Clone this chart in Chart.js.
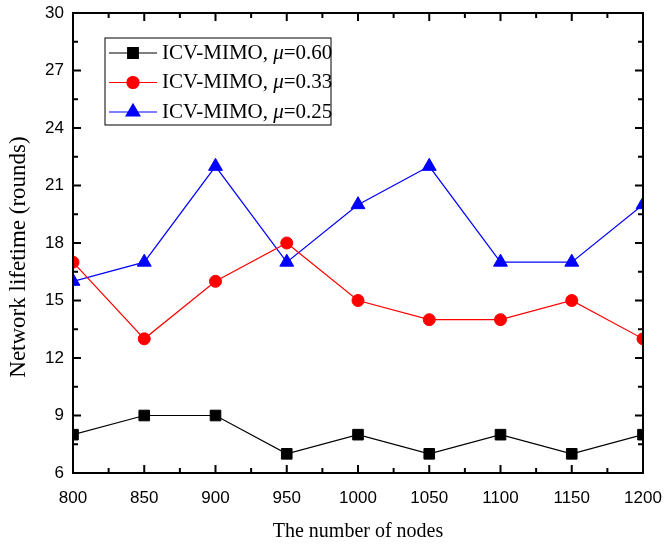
<!DOCTYPE html>
<html>
<head>
<meta charset="UTF-8">
<title>Network lifetime</title>
<script src="https://cdn.jsdelivr.net/npm/chart.js"></script>
<style>
  html, body { margin: 0; padding: 0; background: #fff; }
  #wrap { width: 671px; height: 547px; }
</style>
</head>
<body>
<div id="wrap"><canvas id="lifeChart" width="671" height="547"></canvas></div>
<script>
// data
var nodes = [800, 850, 900, 950, 1000, 1050, 1100, 1150, 1200];
var mu060 = [8, 9, 9, 7, 8, 7, 8, 7, 8];
var mu033 = [17, 13, 16, 18, 15, 14, 14, 15, 13];
var mu025 = [16, 17, 22, 17, 20, 22, 17, 17, 20];
var muLabels = ['0.60', '0.33', '0.25'];
var yTicks = [6, 9, 12, 15, 18, 21, 24, 27, 30];
var yTitle = 'Network lifetime (rounds)';

function pts(ys) {
  return nodes.map(function (x, i) { return { x: x, y: ys[i] }; });
}

// inward ticks on all four sides, frame, legend and y title
var framePlugin = {
  id: 'frame',
  afterDatasetsDraw: function (chart) {
    var ctx = chart.ctx, a = chart.chartArea;
    var xs = chart.scales.x, ys = chart.scales.y;
    ctx.save();
    ctx.strokeStyle = '#000';
    ctx.lineWidth = 2;
    ctx.strokeRect(a.left, a.top, a.right - a.left, a.bottom - a.top);
    ctx.beginPath();
    for (var v = 800; v <= 1200; v += 25) {
      var px = xs.getPixelForValue(v);
      var len = (v % 50 === 0) ? 8 : 5;
      ctx.moveTo(px, a.bottom); ctx.lineTo(px, a.bottom - len);
      ctx.moveTo(px, a.top); ctx.lineTo(px, a.top + len);
    }
    for (var w = 6; w <= 30; w += 1.5) {
      var py = ys.getPixelForValue(w);
      var l2 = (w % 3 === 0) ? 8 : 5;
      ctx.moveTo(a.left, py); ctx.lineTo(a.left + l2, py);
      ctx.moveTo(a.right, py); ctx.lineTo(a.right - l2, py);
    }
    ctx.stroke();

    // y title (sits a bit below the axis centre in the original)
    ctx.save();
    ctx.translate(19, 257);
    ctx.rotate(-Math.PI / 2);
    ctx.fillStyle = '#000';
    ctx.font = '23px "Liberation Serif"';
    ctx.textAlign = 'center';
    ctx.textBaseline = 'middle';
    ctx.fillText(yTitle, 0, 0);
    ctx.restore();

    // legend box (mixed italic text)
    var bx = 105, by = 38, bw = 226, bh = 87;
    ctx.lineWidth = 1;
    ctx.fillStyle = '#fff';
    ctx.fillRect(bx, by, bw, bh);
    ctx.strokeRect(bx, by, bw, bh);
    chart.data.datasets.forEach(function (ds, i) {
      var cy = by + 15 + i * 29.5;
      ctx.strokeStyle = ds.borderColor;
      ctx.lineWidth = 1.2;
      ctx.beginPath();
      ctx.moveTo(bx + 4, cy); ctx.lineTo(bx + 52, cy);
      ctx.stroke();
      Chart.helpers.drawPoint(ctx, {
        pointStyle: ds.pointStyle, radius: ds.pointRadius, borderWidth: 1
      }, bx + 28, cy);
      ctx.fillStyle = ds.borderColor;
      ctx.fill();
      ctx.fillStyle = '#000';
      ctx.textBaseline = 'middle';
      var tx = bx + 57;
      ctx.font = '21px "Liberation Serif"';
      var s1 = 'ICV-MIMO, ';
      ctx.fillText(s1, tx, cy);
      tx += ctx.measureText(s1).width;
      ctx.font = 'italic 21px "Liberation Serif"';
      ctx.fillText('\u03bc', tx, cy);
      tx += ctx.measureText('\u03bc').width;
      ctx.font = '21px "Liberation Serif"';
      ctx.fillText('=' + muLabels[i], tx, cy);
    });
    ctx.restore();
  }
};

var ctx = document.getElementById('lifeChart').getContext('2d');
var lifeChart = new Chart(ctx, {
  type: 'line',
  data: {
    datasets: [{
      label: 'ICV-MIMO, \u03bc=0.60',
      data: pts(mu060),
      borderColor: '#000000',
      backgroundColor: '#000000',
      pointStyle: 'rect',
      pointRadius: 7.5
    }, {
      label: 'ICV-MIMO, \u03bc=0.33',
      data: pts(mu033),
      borderColor: '#ff0000',
      backgroundColor: '#ff0000',
      pointStyle: 'circle',
      pointRadius: 6
    }, {
      label: 'ICV-MIMO, \u03bc=0.25',
      data: pts(mu025),
      borderColor: '#0000ff',
      backgroundColor: '#0000ff',
      pointStyle: 'triangle',
      pointRadius: 8
    }]
  },
  options: {
    responsive: false,
    animation: false,
    layout: { padding: { top: 13, right: 28, left: 0, bottom: 0 } },
    elements: {
      line: { borderWidth: 1.2, tension: 0 },
      point: { borderWidth: 1 }
    },
    plugins: { legend: { display: false }, tooltip: { enabled: false } },
    scales: {
      x: {
        type: 'linear',
        min: 800, max: 1200,
        afterFit: function (s) {
          s.height = 74;
          s.paddingLeft = 0; s.paddingRight = 0;
        },
        ticks: {
          stepSize: 50, padding: 15, color: '#000',
          font: { family: 'Liberation Sans', size: 17 },
          callback: function (v) { return String(v); }
        },
        grid: { display: false, drawTicks: false },
        border: { display: false },
        title: {
          display: true, text: 'The number of nodes', color: '#000',
          font: { family: 'Liberation Serif', size: 20 },
          padding: { top: 8, bottom: 3 }
        }
      },
      y: {
        min: 6, max: 30,
        afterFit: function (s) {
          s.width = 73;
          s.paddingTop = 0; s.paddingBottom = 0;
        },
        afterBuildTicks: function (s) {
          s.ticks = yTicks.map(function (v) { return { value: v }; });
        },
        ticks: {
          padding: 9, color: '#000',
          font: { family: 'Liberation Sans', size: 17 }
        },
        grid: { display: false, drawTicks: false },
        border: { display: false },
        title: { display: false }
      }
    }
  },
  plugins: [framePlugin]
});
</script>
</body>
</html>
